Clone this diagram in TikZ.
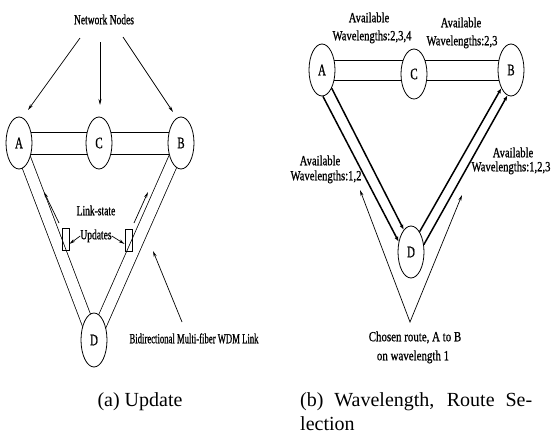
\documentclass[tikz,border=0pt]{standalone}
\usepackage{fontspec}
\setmainfont{Liberation Serif}
\newfontfamily\nfa{Liberation Serif}[FakeStretch=0.68,FakeBold=0.8]
\newfontfamily\nfw{Liberation Serif}[FakeStretch=0.76,FakeBold=0.8]
\newfontfamily\nfc{Liberation Serif}[FakeStretch=0.78,FakeBold=0.8]
\newfontfamily\nfb{Liberation Serif}[FakeStretch=0.62,FakeBold=0.8]
\usetikzlibrary{shapes.geometric,arrows.meta,calc,backgrounds}
\begin{document}
\begin{tikzpicture}[x=1pt,y=-1pt,
  netnode/.style={draw, ellipse, line width=0.8pt, fill=white, minimum width=26pt, minimum height=52pt, inner sep=0pt, font=\nfa\fontsize{16}{18}\selectfont},
  fibre/.style={draw, line width=0.75pt},
  dlink/.style={draw, line width=0.75pt, double, double distance=11pt},
  route/.style={line width=1.5pt, -{Latex[length=5pt,width=4pt]}},
  ptr/.style={line width=0.7pt, -{Stealth[length=6pt,width=3pt]}},
  vroute/.style={line width=0.7pt, {Stealth[length=6pt,width=3pt]}-{Stealth[length=6pt,width=3pt]}},
  lbl/.style={inner sep=0pt, text height=9.5pt, text depth=3pt, font=\nfa\fontsize{14}{16}\selectfont},
  wlbl/.style={lbl, font=\nfw\fontsize{14}{16}\selectfont},
  blbl/.style={lbl, font=\nfb\fontsize{14}{16}\selectfont},
  clbl/.style={lbl, font=\nfc\fontsize{14}{16}\selectfont},
  capt/.style={inner sep=0pt, font=\fontsize{20}{22}\selectfont},
  updbox/.style={draw, line width=0.7pt, minimum width=7pt, minimum height=22pt, inner sep=0pt}
]
\useasboundingbox (0,0) rectangle (555,440);

% ---------- (a) Update ----------
\node[netnode] (lA) at (19,143) {A};
\node[netnode] (lC) at (99,143) {C};
\node[netnode] (lB) at (181,143) {B};
\node[netnode, minimum height=54pt] (lD) at (94,340) {D};

% ---------- (b) Wavelength, route selection ----------
\node[netnode] (rA) at (322,70) {A};
\node[netnode, minimum height=50pt] (rC) at (414,74) {C};
\node[netnode] (rB) at (511,70) {B};
\node[netnode] (rD) at (411,252) {D};

\begin{scope}[on background layer]
  \fill[white] (0,0) rectangle (555,440);
  % left horizontal fibre pairs
  \draw[fibre] ([yshift=11pt]lA.center) -- ([yshift=11pt]lC.center);
  \draw[fibre] ([yshift=-11pt]lA.center) -- ([yshift=-11pt]lC.center);
  \draw[fibre] ([yshift=11pt]lC.center) -- ([yshift=11pt]lB.center);
  \draw[fibre] ([yshift=-11pt]lC.center) -- ([yshift=-11pt]lB.center);
  \draw[dlink] (lA.center) -- (lD.center);
  \draw[dlink] (lB.center) -- (lD.center);
  % right horizontal fibre pairs
  \draw[fibre] ([yshift=10pt]rA.center) -- ([yshift=10pt]rA.center -| rC.center);
  \draw[fibre] ([yshift=-10pt]rA.center) -- ([yshift=-10pt]rA.center -| rC.center);
  \draw[fibre] ([yshift=10pt]rA.center -| rC.center) -- ([yshift=10pt]rB.center);
  \draw[fibre] ([yshift=-10pt]rA.center -| rC.center) -- ([yshift=-10pt]rB.center);
\end{scope}

% Network nodes label and arrows
\node[lbl] (nn) at (104,21) {Network Nodes};
\coordinate (nn1) at (80,38);  \coordinate (nn1t) at (28,110);
\coordinate (nn2) at (100,42); \coordinate (nn2t) at (100,105);
\coordinate (nn3) at (123,37); \coordinate (nn3t) at (173,112);
\draw[ptr] (nn1) -- (nn1t);
\draw[ptr] (nn2) -- (nn2t);
\draw[ptr] (nn3) -- (nn3t);

% Link-state updates
\node[lbl] (ls) at (96,212) {Link-state};
\node[lbl] (upd) at (96,236) {Updates};
\node[updbox] (u1) at (65.5,239) {};
\node[updbox] (u2) at (128.5,240) {};
\draw[ptr] (upd.west) -- ([yshift=-5pt]u1.east);
\draw[ptr] (upd.east) -- ([yshift=-4pt]u2.west);
\coordinate (pa1) at (59,223);  \coordinate (pa1t) at (44,192);
\coordinate (pa2) at (134,223); \coordinate (pa2t) at (148,192);
\draw[ptr] (pa1) -- (pa1t);
\draw[ptr] (pa2) -- (pa2t);

% WDM link label
\node[blbl] (bid) at (194,340) {Bidirectional Multi-fiber WDM Link};
\coordinate (bid1) at (182,322); \coordinate (bid1t) at (153,251);
\draw[ptr] (bid1) -- (bid1t);

\node[capt] (capa) at (140,402) {(a) Update};

% chosen route, thick fibres
\draw[route] (rA.298) -- (rD.108);
\draw[route] (rA.272) -- (rD.140);
\draw[route] (rD.67) -- (rB.242);
\draw[route] (rD.30) -- (rB.262);

% wavelength labels
\node[wlbl] (w1a) at (369,19) {Available};
\node[wlbl] (w1b) at (372,37) {Wavelengths:2,3,4};
\node[wlbl] (w2a) at (461,24) {Available};
\node[wlbl] (w2b) at (462,42) {Wavelengths:2,3};
\node[wlbl] (w3a) at (320,162) {Available};
\node[wlbl] (w3b) at (326,177) {Wavelengths:1,2};
\node[wlbl] (w4a) at (513,154) {Available};
\node[wlbl] (w4b) at (511,168) {Wavelengths:1,2,3};

% V pointer
\coordinate (vt) at (410,322);
\coordinate (v1) at (360,190);
\coordinate (v2) at (462,195);
\draw[vroute] (v1) -- (vt) -- (v2);
\node[clbl] (ch1) at (415,338) {Chosen route, A to B};
\node[clbl] (ch2) at (413,357) {on wavelength 1};

\node[capt, anchor=west] (capb1) at (300,402) {\makebox[232pt][s]{(b) Wavelength, Route Se-}};
\node[capt, anchor=west] (capb2) at (300,424) {lection};
\end{tikzpicture}
\end{document}
